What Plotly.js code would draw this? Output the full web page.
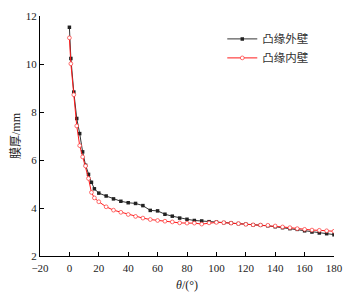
<!DOCTYPE html>
<html>
<head>
<meta charset="utf-8">
<script src="https://cdn.plot.ly/plotly-3.0.1.min.js"></script>
<style>html,body{margin:0;padding:0;background:#fff;}#chart{width:346px;height:293px;}</style>
</head>
<body>
<div id="chart"></div>
<script>
const theta = [0,1,3,5,7,9,11,13,15,17,20,25,30,35,40,45,50,55,60,65,70,75,80,85,90,95,100,105,110,115,120,125,130,135,140,145,150,155,160,165,170,175,180];
const outerWall = [11.53,10.23,8.83,7.73,7.1,6.34,5.78,5.4,5.07,4.8,4.62,4.5,4.38,4.28,4.22,4.19,4.1,3.9,3.88,3.74,3.66,3.58,3.53,3.48,3.46,3.43,3.41,3.39,3.37,3.35,3.32,3.3,3.28,3.26,3.22,3.18,3.14,3.11,3.05,3.0,2.96,2.93,2.89];
const innerWall = [11.09,10.01,8.72,7.42,6.6,6.13,5.75,5.23,4.65,4.42,4.26,4.05,3.91,3.82,3.73,3.65,3.58,3.52,3.48,3.45,3.42,3.38,3.37,3.37,3.33,3.38,3.4,3.39,3.37,3.35,3.32,3.3,3.29,3.28,3.25,3.21,3.18,3.14,3.11,3.08,3.07,3.05,3.03];
const seriesNames = ['凸缘外壁','凸缘内壁'];

const fontFam = 'Liberation Serif, Times New Roman, Noto Sans CJK SC, serif';
const traces = [
  {x: theta, y: outerWall, name: seriesNames[0], type: 'scatter', mode: 'lines+markers',
   line: {color: '#333333', width: 1},
   marker: {symbol: 'square', size: 3.5, color: '#222222', line: {width: 0}}},
  {x: theta, y: innerWall, name: seriesNames[1], type: 'scatter', mode: 'lines+markers',
   line: {color: '#ff1a1a', width: 1},
   marker: {symbol: 'circle', size: 3.8, color: '#ffffff', line: {color: '#ff3030', width: 0.7}}}
];
const layout = {
  width: 346, height: 293,
  margin: {l: 40, r: 12, t: 16, b: 37},
  paper_bgcolor: '#fff', plot_bgcolor: '#fff',
  font: {family: fontFam, size: 11, color: '#222'},
  showlegend: true,
  legend: {x: 0.62, y: 0.965, xanchor: 'left', yanchor: 'top', bgcolor: 'rgba(0,0,0,0)',
           font: {family: 'Noto Sans CJK SC, Liberation Serif', size: 11.5, color: '#333'},
           tracegroupgap: 0, itemwidth: 30},
  xaxis: {range: [-20, 180], tickvals: [-20,0,20,40,60,80,100,120,140,160,180],
          showline: true, linecolor: '#000', linewidth: 1, mirror: false,
          ticks: 'inside', ticklen: 4, tickcolor: '#000', showgrid: false, zeroline: false,
          ticklabelstandoff: 2,
          tickfont: {family: fontFam, size: 11, color: '#222'},
          title: {text: '<i>θ</i>/(°)', font: {family: fontFam, size: 12, color: '#222'}, standoff: 7}},
  yaxis: {range: [2, 12], tickvals: [2,4,6,8,10,12],
          showline: true, linecolor: '#000', linewidth: 1, mirror: false,
          ticks: 'inside', ticklen: 4, tickcolor: '#000', showgrid: false, zeroline: false,
          tickfont: {family: fontFam, size: 11, color: '#222'},
          title: {text: '膜厚/mm', font: {family: fontFam, size: 12, color: '#222'}, standoff: 2}}
};
Plotly.newPlot('chart', traces, layout, {displayModeBar: false, staticPlot: true});
</script>
</body>
</html>
